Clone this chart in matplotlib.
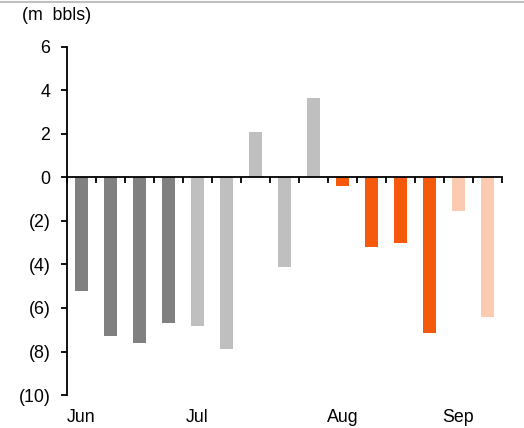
import numpy as np
import matplotlib.pyplot as plt
import matplotlib.transforms as mtransforms

plt.rcParams['font.family'] = ['Liberation Sans', 'DejaVu Sans']

# --- data ---
values = [-5.2, -7.3, -7.6, -6.7, -6.85, -7.9, 2.1, -4.1, 3.65,
          -0.4, -3.2, -3.0, -7.15, -1.55, -6.4]
groups = [0, 0, 0, 0, 1, 1, 1, 1, 1, 2, 2, 2, 2, 3, 3]
group_colors = ['#808080', '#bfbfbf', '#f55a0c', '#fbcab0']
months = ['Jun', 'Jul', 'Aug', 'Sep']
month_pos = [0, 4, 9, 13]
yticks = [-10, -8, -6, -4, -2, 0, 2, 4, 6]

x = np.arange(len(values))
colors = [group_colors[g] for g in groups]
FS = 12.8

fig = plt.figure(figsize=(5.24, 4.28), dpi=100)
ax = fig.add_axes([0.1279, 0.0771, 0.958 - 0.1279, 0.8902 - 0.0771])

ax.bar(x, values, width=0.42, color=colors, zorder=2)

ax.set_xlim(-0.5, len(values) - 0.5)
ax.set_ylim(-10, 6)

# y axis
ax.set_yticks(yticks)
ax.set_yticklabels([f"({abs(v)})" if v < 0 else f"{v}" for v in yticks], fontsize=FS)
ax.tick_params(axis='y', direction='out', length=4, width=1.3, pad=8)

# x axis at zero with category boundary ticks
ax.spines['bottom'].set_position(('data', 0))
ax.spines['bottom'].set_zorder(3)
ax.set_xticks(np.arange(-0.5, len(values), 1.0))
ax.set_xticklabels([])
ax.tick_params(axis='x', direction='out', length=4, width=1.3)
for s in ['top', 'right']:
    ax.spines[s].set_visible(False)
for s in ['left', 'bottom']:
    ax.spines[s].set_linewidth(1.3)

# month labels below the plot
trans = mtransforms.blended_transform_factory(ax.transData, ax.transAxes)
for m, p in zip(months, month_pos):
    ax.text(p, -0.065, m, transform=trans, ha='center', va='center', fontsize=FS)

fig.text(22 / 524, 1 - 16 / 428, '(m  bbls)', ha='left', va='center', fontsize=FS)
fig.add_artist(plt.Line2D([0, 1], [1 - 1.5 / 428] * 2, color='#bfbfbf', lw=1.5))

fig.savefig('out.png', dpi=100)
